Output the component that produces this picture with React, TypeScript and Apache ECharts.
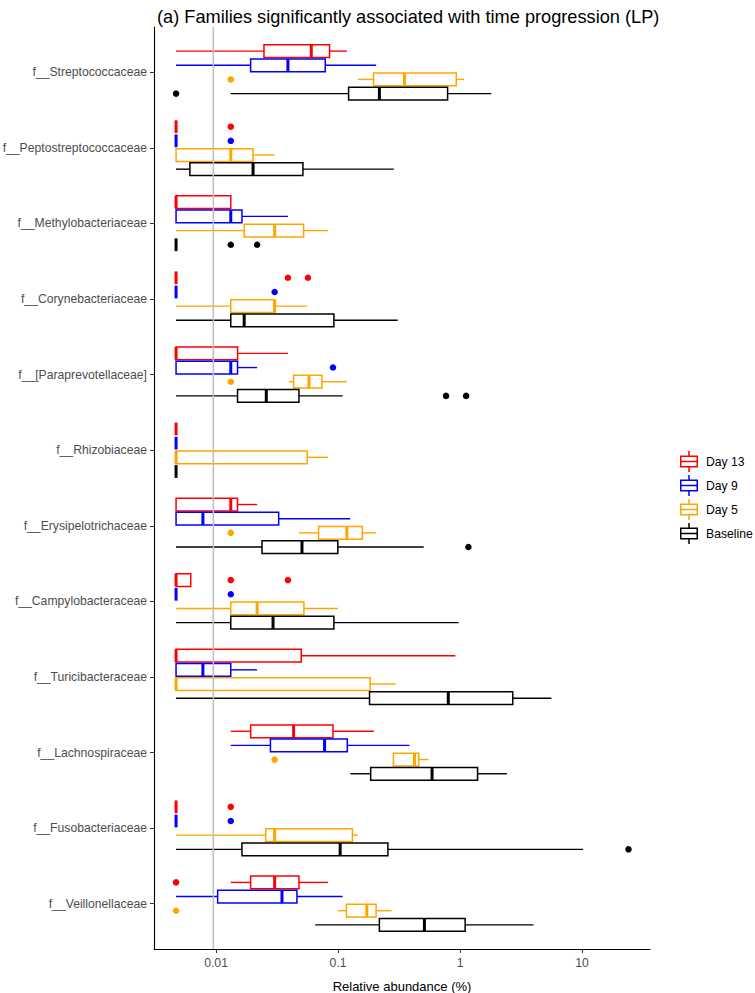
import React, { useEffect, useRef } from "react";
import * as echarts from "echarts";

const FAMILIES = [
  "f__Streptococcaceae",
  "f__Peptostreptococcaceae",
  "f__Methylobacteriaceae",
  "f__Corynebacteriaceae",
  "f__[Paraprevotellaceae]",
  "f__Rhizobiaceae",
  "f__Erysipelotrichaceae",
  "f__Campylobacteraceae",
  "f__Turicibacteraceae",
  "f__Lachnospiraceae",
  "f__Fusobacteriaceae",
  "f__Veillonellaceae",
];
const GROUPS = ["Day 13", "Day 9", "Day 5", "Baseline"];
const COLORS = ["#FF0000", "#0000FF", "#FFA500", "#000000"];

const Z = 0.0047; // zero abundance as plotted

// [min, Q1, median, Q3, max] per family (top to bottom)
const DAY13_STATS = [
  [Z, 0.0247, 0.0603, 0.0851, 0.118],
  [Z, Z, Z, Z, Z],
  [Z, Z, Z, 0.0132, 0.0132],
  [Z, Z, Z, Z, Z],
  [Z, Z, Z, 0.015, 0.0388],
  [Z, Z, Z, Z, Z],
  [Z, Z, 0.0132, 0.015, 0.0217],
  [Z, Z, Z, 0.0062, 0.0062],
  [Z, Z, Z, 0.0499, 0.914],
  [0.0132, 0.0192, 0.0432, 0.0908, 0.196],
  [Z, Z, Z, Z, Z],
  [0.0132, 0.0192, 0.0302, 0.0478, 0.0826],
];
const DAY9_STATS = [
  [Z, 0.0192, 0.0388, 0.0785, 0.205],
  [Z, Z, Z, Z, Z],
  [Z, Z, 0.0132, 0.0163, 0.0388],
  [Z, Z, Z, Z, Z],
  [Z, Z, 0.0132, 0.015, 0.0217],
  [Z, Z, Z, Z, Z],
  [Z, Z, 0.0078, 0.0326, 0.1255],
  [Z, Z, Z, Z, Z],
  [Z, Z, 0.0078, 0.0132, 0.0217],
  [0.0132, 0.0279, 0.0775, 0.119, 0.385],
  [Z, Z, Z, Z, Z],
  [Z, 0.0103, 0.0347, 0.046, 0.109],
];
const DAY5_STATS = [
  [0.145, 0.195, 0.35, 0.93, 1.08],
  [Z, Z, 0.0132, 0.0201, 0.0302],
  [Z, 0.017, 0.0302, 0.0522, 0.0826],
  [Z, 0.0132, 0.0302, 0.0302, 0.0558],
  [0.0395, 0.0432, 0.0577, 0.0738, 0.118],
  [Z, Z, Z, 0.0558, 0.0826],
  [0.0478, 0.0692, 0.118, 0.158, 0.205],
  [Z, 0.0132, 0.0217, 0.0525, 0.0995],
  [Z, Z, Z, 0.183, 0.295],
  [0.284, 0.284, 0.423, 0.458, 0.553],
  [Z, 0.0255, 0.0302, 0.131, 0.145],
  [0.0995, 0.117, 0.172, 0.205, 0.275],
];
const BASELINE_STATS = [
  [0.0132, 0.122, 0.218, 0.79, 1.8],
  [Z, 0.0061, 0.0201, 0.0515, 0.286],
  [Z, Z, Z, Z, Z],
  [Z, 0.0132, 0.017, 0.0924, 0.308],
  [Z, 0.015, 0.0258, 0.0478, 0.109],
  [Z, Z, Z, Z, Z],
  [Z, 0.0238, 0.0506, 0.0995, 0.503],
  [Z, 0.0132, 0.0293, 0.0924, 0.975],
  [Z, 0.181, 0.8, 2.7, 5.6],
  [0.126, 0.185, 0.589, 1.39, 2.42],
  [Z, 0.0163, 0.104, 0.256, 10.2],
  [0.065, 0.218, 0.51, 1.1, 4.0],
];

// outliers: [family index, value]
const DAY13_OUTLIERS = [
  [1, 0.0132], [3, 0.0388], [3, 0.0566], [7, 0.0132], [7, 0.0388], [10, 0.0132], [11, Z],
];
const DAY9_OUTLIERS = [
  [1, 0.0132], [3, 0.0302], [4, 0.0908], [7, 0.0132], [10, 0.0132],
];
const DAY5_OUTLIERS = [
  [0, 0.0132], [4, 0.0132], [6, 0.0132], [9, 0.0302], [11, Z],
];
const BASELINE_OUTLIERS = [
  [0, Z], [2, 0.0132], [2, 0.0217], [4, 0.767], [4, 1.12], [6, 1.17], [10, 24],
];

const X_TICKS = [0.01, 0.1, 1, 10];
const X_TICK_LABELS = ["0.01", "0.1", "1", "10"];
const REF_LINE = 0.0095;
const X_MIN = 0.0031;
const X_MAX = 36;

const ALL_STATS = [DAY13_STATS, DAY9_STATS, DAY5_STATS, BASELINE_STATS];
const ALL_OUTLIERS = [DAY13_OUTLIERS, DAY9_OUTLIERS, DAY5_OUTLIERS, BASELINE_OUTLIERS];

const FONT = "'Liberation Sans', Arial, Helvetica, sans-serif";
const lg = (v: number) => Math.log10(v);

const DODGE = 0.75;
const SLOT = DODGE / GROUPS.length;
const BOX_H = SLOT * 0.9;
const offsetOf = (g: number) => -DODGE / 2 + SLOT * (g + 0.5);

const LEGEND_ICON =
  "path://M8.25,0h1.5v4.5h-1.5z M0,4.5h18v1.5h-18z M0,15h18v1.5h-18z M0,4.5h1.5v12h-1.5z M16.5,4.5h1.5v12h-1.5z M0,9.75h18v1.5h-18z M8.25,16.5h1.5v4.5h-1.5z";

export default function App() {
  const ref = useRef<HTMLDivElement>(null);
  useEffect(() => {
    if (!ref.current) return;
    const chart = echarts.init(ref.current, null, { renderer: "svg" });

    const series: any[] = [];

    GROUPS.forEach((g, gi) => {
      const color = COLORS[gi];
      const off = offsetOf(gi);
      series.push({
        type: "custom",
        name: g,
        z: 2,
        itemStyle: { color },
        encode: { x: [1, 2, 3, 4, 5], y: 0 },
        data: ALL_STATS[gi].map((s, i) => [i, ...s.map(lg)]),
        renderItem: (params: any, api: any) => {
          const yv = api.value(0) + off;
          const pMin = api.coord([api.value(1), yv]);
          const pQ1 = api.coord([api.value(2), yv]);
          const pMed = api.coord([api.value(3), yv]);
          const pQ3 = api.coord([api.value(4), yv]);
          const pMax = api.coord([api.value(5), yv]);
          const h = Math.abs(api.size([0, BOX_H])[1]);
          const y = pQ1[1];
          const children: any[] = [];
          if (pQ1[0] - pMin[0] > 0.1)
            children.push({
              type: "line",
              shape: { x1: pMin[0], y1: y, x2: pQ1[0], y2: y },
              style: { stroke: color, lineWidth: 1.4 },
            });
          if (pMax[0] - pQ3[0] > 0.1)
            children.push({
              type: "line",
              shape: { x1: pQ3[0], y1: y, x2: pMax[0], y2: y },
              style: { stroke: color, lineWidth: 1.4 },
            });
          if (pQ3[0] - pQ1[0] > 0.1)
            children.push({
              type: "rect",
              shape: { x: pQ1[0], y: y - h / 2, width: pQ3[0] - pQ1[0], height: h },
              style: { fill: "#FFFFFF", stroke: color, lineWidth: 1.5 },
            });
          children.push({
            type: "line",
            shape: { x1: pMed[0], y1: y - h / 2, x2: pMed[0], y2: y + h / 2 },
            style: { stroke: color, lineWidth: 3 },
          });
          return { type: "group", children };
        },
      });
    });

    series.push({
      type: "line",
      name: "ref",
      data: [
        [lg(REF_LINE), -0.6],
        [lg(REF_LINE), 11.6],
      ],
      symbol: "none",
      silent: true,
      z: 3,
      lineStyle: { color: "#BEBEBE", width: 1.5 },
    });

    GROUPS.forEach((g, gi) => {
      const off = offsetOf(gi);
      series.push({
        type: "scatter",
        name: g,
        z: 4,
        symbol: "circle",
        symbolSize: 6.5,
        itemStyle: { color: COLORS[gi], opacity: 1 },
        data: ALL_OUTLIERS[gi].map(([fi, v]) => [lg(v), fi + off]),
      });
    });

    chart.setOption({
      animation: false,
      title: {
        text: "(a) Families significantly associated with time progression (LP)",
        left: 152,
        top: 3,
        textStyle: { fontSize: 18.2, fontWeight: "normal", color: "#000", fontFamily: FONT },
      },
      legend: {
        orient: "vertical",
        left: 675,
        top: 446,
        itemWidth: 18,
        itemHeight: 21,
        itemGap: 3,
        selectedMode: false,
        textStyle: { fontSize: 12.2, color: "#000", fontFamily: FONT, padding: [0, 0, 0, 3] },
        data: GROUPS.map((g, i) => ({
          name: g,
          icon: LEGEND_ICON,
          itemStyle: { color: COLORS[i], borderWidth: 0, opacity: 1 },
        })),
      },
      grid: { left: 154, right: 105, top: 27, bottom: 44, containLabel: false, outerBoundsMode: "none" },
      xAxis: {
        type: "value",
        min: lg(X_MIN),
        max: lg(X_MAX),
        name: "Relative abundance (%)",
        nameLocation: "middle",
        nameGap: 31,
        nameTextStyle: { fontSize: 13, color: "#000", fontFamily: FONT },
        splitLine: { show: false },
        axisLine: { onZero: false, lineStyle: { color: "#000", width: 1.1 } },
        axisTick: {
          length: 4,
          lineStyle: { color: "#333" },
          customValues: X_TICKS.map(lg),
        },
        axisLabel: {
          customValues: X_TICKS.map(lg),
          formatter: (v: number) => {
            const i = X_TICKS.findIndex((t) => Math.abs(lg(t) - v) < 1e-6);
            return i >= 0 ? X_TICK_LABELS[i] : "";
          },
          fontSize: 12.2,
          color: "#4D4D4D",
          fontFamily: FONT,
          margin: 8,
        },
      },
      yAxis: {
        type: "value",
        inverse: true,
        min: -0.6,
        max: FAMILIES.length - 1 + 0.6,
        splitLine: { show: false },
        axisLine: { show: true, onZero: false, lineStyle: { color: "#000", width: 1.1 } },
        axisTick: {
          show: true,
          length: 4,
          lineStyle: { color: "#333" },
          customValues: FAMILIES.map((_, i) => i),
        },
        axisLabel: {
          customValues: FAMILIES.map((_, i) => i),
          formatter: (v: number) => FAMILIES[Math.round(v)] ?? "",
          fontSize: 12.2,
          color: "#4D4D4D",
          fontFamily: FONT,
          margin: 7,
        },
      },
      series,
    });

    return () => chart.dispose();
  }, []);

  return (
    <div
      ref={ref}
      style={{ position: "absolute", left: 0, top: 0, width: 755, height: 993, background: "#fff" }}
    />
  );
}
